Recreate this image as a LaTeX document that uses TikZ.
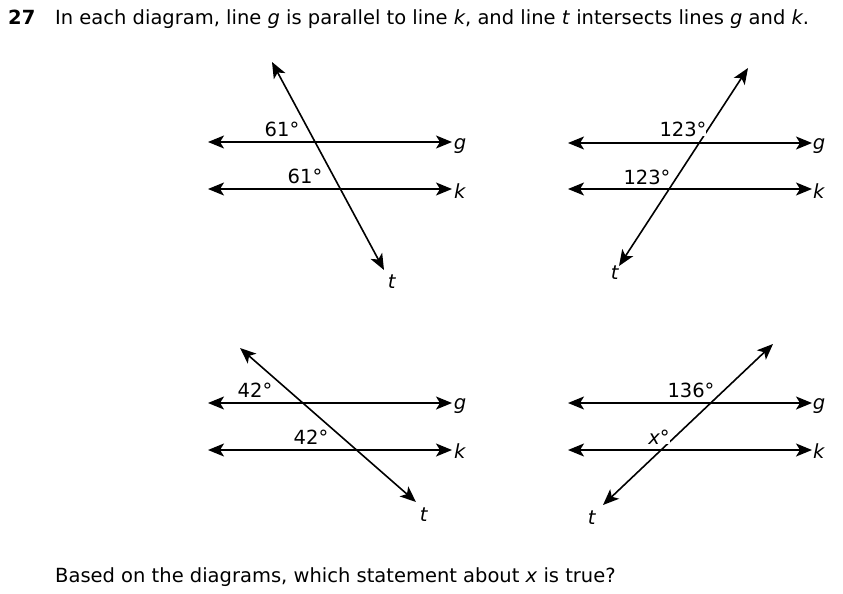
\documentclass[tikz,border=0pt]{standalone}
\usepackage{fontspec}
\setmainfont{DejaVu Sans}
\usetikzlibrary{arrows.meta}
\tikzset{
  line/.style={{Stealth[length=16pt,width=13pt,inset=4pt]}-{Stealth[length=16pt,width=13pt,inset=4pt]}, line width=1.6pt},
  lbl/.style={font=\fontsize{19.5}{22}\selectfont, inner sep=0pt},
  ang/.style={font=\fontsize{19.5}{22}\selectfont, inner sep=0pt, fill=white}
}
\begin{document}
\begin{tikzpicture}[x=1pt,y=-1pt]
  \useasboundingbox (0,0) rectangle (843,594);
  \node[lbl, anchor=base west] (num) at (8,25) {\textbf{27}};
  \node[lbl, anchor=base west] (title) at (55,25) {In each diagram, line \textit{g} is parallel to line \textit{k}, and line \textit{t} intersects lines \textit{g} and \textit{k}.};

  % diagram 1
  \coordinate (g1a) at (208,142); \coordinate (g1b) at (452,142);
  \coordinate (k1a) at (208,189); \coordinate (k1b) at (452,189);
  \coordinate (t1a) at (272,62);  \coordinate (t1b) at (384,270);
  \draw[line] (g1a) -- (g1b);
  \draw[line] (k1a) -- (k1b);
  \draw[line] (t1a) -- (t1b);
  \node[ang] (a1) at (282,129) {61°};
  \node[ang] (b1) at (305,176) {61°};
  \node[lbl] (g1) at (460,146) {\textit{g}};
  \node[lbl] (k1) at (460,191) {\textit{k}};
  \node[lbl] (t1) at (392,282) {\textit{t}};

  % diagram 2
  \coordinate (g2a) at (568,143); \coordinate (g2b) at (812,143);
  \coordinate (k2a) at (568,189); \coordinate (k2b) at (812,189);
  \coordinate (t2a) at (748,68);  \coordinate (t2b) at (619,266);
  \draw[line] (g2a) -- (g2b);
  \draw[line] (k2a) -- (k2b);
  \draw[line] (t2a) -- (t2b);
  \node[ang] (a2) at (683,129) {123°};
  \node[ang] (b2) at (647,177) {123°};
  \node[lbl] (g2) at (819,146) {\textit{g}};
  \node[lbl] (k2) at (819,191) {\textit{k}};
  \node[lbl] (t2) at (615,273) {\textit{t}};

  % diagram 3
  \coordinate (g3a) at (208,403); \coordinate (g3b) at (452,403);
  \coordinate (k3a) at (208,450); \coordinate (k3b) at (452,450);
  \coordinate (t3a) at (240,348); \coordinate (t3b) at (416,502);
  \draw[line] (g3a) -- (g3b);
  \draw[line] (k3a) -- (k3b);
  \draw[line] (t3a) -- (t3b);
  \node[ang] (a3) at (255,390) {42°};
  \node[ang] (b3) at (311,437) {42°};
  \node[lbl] (g3) at (460,406) {\textit{g}};
  \node[lbl] (k3) at (460,451) {\textit{k}};
  \node[lbl] (t3) at (424,515) {\textit{t}};

  % diagram 4
  \coordinate (g4a) at (568,403); \coordinate (g4b) at (812,403);
  \coordinate (k4a) at (568,450); \coordinate (k4b) at (812,450);
  \coordinate (t4a) at (773,344); \coordinate (t4b) at (603,505);
  \draw[line] (g4a) -- (g4b);
  \draw[line] (k4a) -- (k4b);
  \draw[line] (t4a) -- (t4b);
  \node[ang] (a4) at (691,390) {136°};
  \node[ang] (b4) at (659,437) {\textit{x}°};
  \node[lbl] (g4) at (819,406) {\textit{g}};
  \node[lbl] (k4) at (819,451) {\textit{k}};
  \node[lbl] (t4) at (592,518) {\textit{t}};

  \node[lbl, anchor=base west] (q) at (55,582) {Based on the diagrams, which statement about \textit{x} is true?};
\end{tikzpicture}
\end{document}
